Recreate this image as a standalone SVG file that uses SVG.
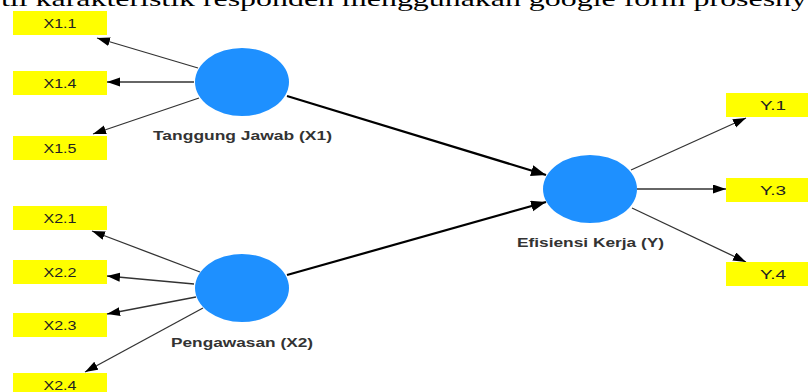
<svg xmlns="http://www.w3.org/2000/svg" width="808" height="392" viewBox="0 0 808 392">
<style>
.bg{fill:#ffffff}
.ind rect{fill:#ffff00}
.ind text{font-family:"Liberation Sans",Arial,sans-serif;font-size:12.5px;fill:#222;text-anchor:middle}
.lv ellipse{fill:#1e90ff}
.lv text{font-family:"Liberation Sans",Arial,sans-serif;font-size:13.5px;font-weight:bold;fill:#333;text-anchor:middle}
.thin{stroke:#333;stroke-width:1.3;fill:none;marker-end:url(#ah)}
.thick{stroke:#000;stroke-width:2.2;fill:none;marker-end:url(#ahb)}
.top{font-family:"Liberation Serif","Times New Roman",serif;font-size:22px;fill:#000}
</style>
<defs>
<marker id="ah" markerUnits="userSpaceOnUse" markerWidth="14" markerHeight="10" refX="13" refY="4.5" orient="auto"><path d="M0,0 L13,4.5 L0,9 z" fill="#000"/></marker>
<marker id="ahb" markerUnits="userSpaceOnUse" markerWidth="16" markerHeight="12" refX="15" refY="5.5" orient="auto"><path d="M0,0 L15,5.5 L0,11 z" fill="#000"/></marker>
</defs>
<rect class="bg" x="0" y="0" width="808" height="392"/>
<text class="top" x="1" y="6" textLength="806" lengthAdjust="spacingAndGlyphs">til karakteristik responden menggunakan google form prosesny</text>
<g id="connectors">
<line class="thin" x1="198" y1="68" x2="97" y2="38"/>
<line class="thin" x1="194" y1="82" x2="107" y2="82"/>
<line class="thin" x1="199" y1="98" x2="93" y2="134"/>
<line class="thin" x1="200" y1="272" x2="92" y2="231"/>
<line class="thin" x1="194" y1="284" x2="107" y2="276"/>
<line class="thin" x1="196" y1="297" x2="107" y2="314"/>
<line class="thin" x1="203" y1="308" x2="85" y2="372"/>
<line class="thin" x1="631" y1="170" x2="746" y2="118"/>
<line class="thin" x1="637" y1="189" x2="726" y2="189"/>
<line class="thin" x1="632" y1="208" x2="746" y2="262"/>
<line class="thick" x1="287" y1="96" x2="546" y2="175"/>
<line class="thick" x1="287" y1="275" x2="546" y2="202"/>
</g>
<g id="X1.1" class="ind"><rect x="13" y="11" width="94" height="24"/><text x="60" y="27.5" textLength="33" lengthAdjust="spacingAndGlyphs">X1.1</text></g>
<g id="X1.4" class="ind"><rect x="13" y="71" width="94" height="24"/><text x="60" y="87.5" textLength="33" lengthAdjust="spacingAndGlyphs">X1.4</text></g>
<g id="X1.5" class="ind"><rect x="13" y="136" width="94" height="24"/><text x="60" y="152.5" textLength="33" lengthAdjust="spacingAndGlyphs">X1.5</text></g>
<g id="X2.1" class="ind"><rect x="13" y="206" width="94" height="24"/><text x="60" y="222.5" textLength="33" lengthAdjust="spacingAndGlyphs">X2.1</text></g>
<g id="X2.2" class="ind"><rect x="13" y="260" width="94" height="24"/><text x="60" y="276.5" textLength="33" lengthAdjust="spacingAndGlyphs">X2.2</text></g>
<g id="X2.3" class="ind"><rect x="13" y="313" width="94" height="24"/><text x="60" y="329.5" textLength="33" lengthAdjust="spacingAndGlyphs">X2.3</text></g>
<g id="X2.4" class="ind"><rect x="13" y="373" width="94" height="24"/><text x="60" y="389.5" textLength="33" lengthAdjust="spacingAndGlyphs">X2.4</text></g>
<g id="Y.1" class="ind"><rect x="726" y="93" width="94" height="24"/><text x="773" y="109.5" textLength="26" lengthAdjust="spacingAndGlyphs">Y.1</text></g>
<g id="Y.3" class="ind"><rect x="726" y="178" width="94" height="24"/><text x="773" y="194.5" textLength="26" lengthAdjust="spacingAndGlyphs">Y.3</text></g>
<g id="Y.4" class="ind"><rect x="726" y="262" width="94" height="24"/><text x="773" y="278.5" textLength="26" lengthAdjust="spacingAndGlyphs">Y.4</text></g>
<g id="X1" class="lv"><ellipse cx="242" cy="82" rx="47" ry="34"/><text x="242.5" y="140" textLength="179" lengthAdjust="spacingAndGlyphs">Tanggung Jawab (X1)</text></g>
<g id="X2" class="lv"><ellipse cx="242" cy="288" rx="47" ry="34"/><text x="242" y="347" textLength="142" lengthAdjust="spacingAndGlyphs">Pengawasan (X2)</text></g>
<g id="Y" class="lv"><ellipse cx="590" cy="189" rx="47" ry="34"/><text x="590.5" y="246.5" textLength="147" lengthAdjust="spacingAndGlyphs">Efisiensi Kerja (Y)</text></g>
</svg>
